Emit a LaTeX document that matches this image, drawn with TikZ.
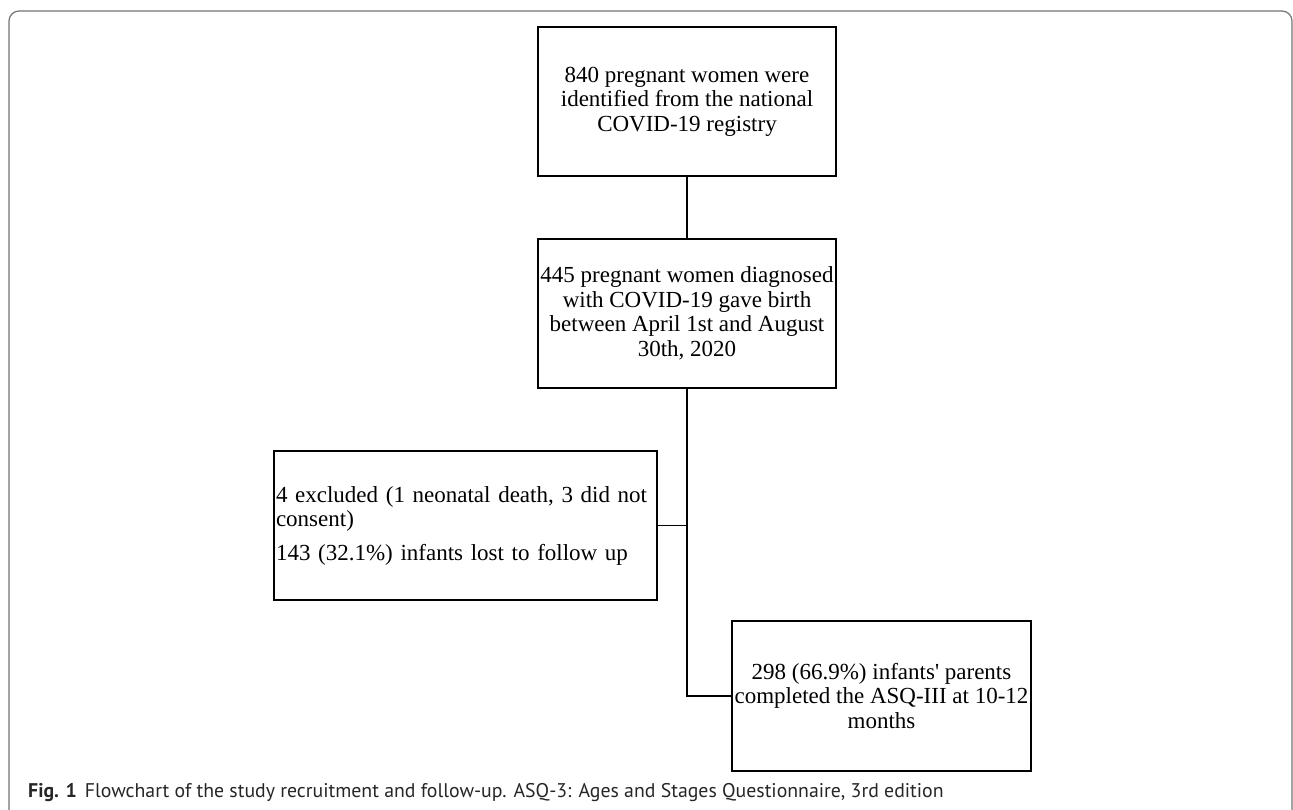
\documentclass[tikz,border=0pt]{standalone}
\usepackage{fontspec}
\setmainfont{Liberation Serif}
\newfontfamily\capfont{PT Sans}
\begin{document}
\begin{tikzpicture}[x=1pt,y=-1pt,
    box/.style={draw,line width=1.3pt,inner sep=2pt,font=\fontsize{23}{24.5}\selectfont},
    link/.style={line width=1.3pt}]
      \useasboundingbox (0,0) rectangle (1293,810);
      \draw[gray!90!black,line width=1.2pt,rounded corners=10pt] (9,11) rectangle (1292,830);
      \node[box,minimum width=298pt,minimum height=149pt,align=center] (reg) at (687,101.5) {840 pregnant women were\\identified from the national\\COVID-19 registry};
      \node[box,minimum width=298pt,minimum height=149pt,align=center] (birth) at (687,313.5) {445 pregnant women diagnosed\\with COVID-19 gave birth\\between April 1st and August\\30th, 2020};
      \node[box,text width=379pt,minimum height=149pt,align=left] (excl) at (465.5,525.5) {4 excluded (1 neonatal death, 3 did not\\consent)\\[9pt]143 (32.1\%) infants lost to follow up};
      \node[box,minimum width=299pt,minimum height=150pt,align=center] (asq) at (881.5,696) {298 (66.9\%) infants\textquotesingle{} parents\\completed the ASQ-III at 10-12\\months};
      \draw[link] (reg) -- (birth);
      \draw[link] (birth.south) |- (asq.west);
      \draw[link] (excl.east) -- (excl.east -| birth.south);
      \node[anchor=base west,inner sep=0pt,font=\capfont\fontsize{19.8}{22}\selectfont,text=black!85] (cap) at (28,797) {\textbf{Fig. 1}\hspace{8pt}Flowchart of the study recruitment and follow-up. ASQ-3: Ages and Stages Questionnaire, 3rd edition};
\end{tikzpicture}
\end{document}
